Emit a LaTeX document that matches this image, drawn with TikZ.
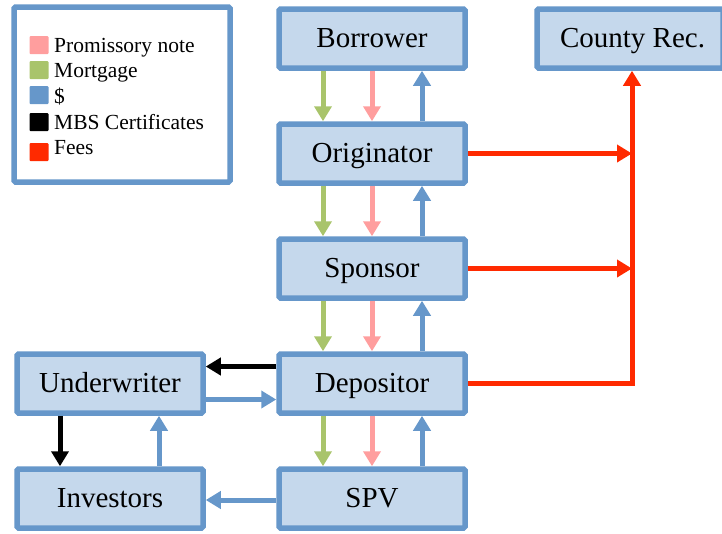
\documentclass[tikz,border=0pt]{standalone}
\usepackage{fontspec}
\setmainfont{Liberation Serif}
\usetikzlibrary{arrows.meta}
\definecolor{boxfill}{HTML}{C5D8EC}
\definecolor{boxline}{HTML}{6697CA}
\definecolor{cgreen}{HTML}{A9C46B}
\definecolor{cpink}{HTML}{FF9E9E}
\definecolor{cblue}{HTML}{6697CA}
\definecolor{cred}{HTML}{FF2A00}
\tikzset{
  entity/.style={draw=boxline, fill=boxfill, line width=5.5pt, rounded corners=1.5pt,
    minimum width=186pt, minimum height=59pt, inner sep=0pt,
    text height=21pt, text depth=4pt,
    font=\fontsize{29}{33}\selectfont},
  flow/.style={line width=5pt, -{Triangle[length=15pt,width=17pt]}},
  legsq/.style={rounded corners=1pt, minimum width=19pt, minimum height=18pt, inner sep=0pt},
  legtx/.style={anchor=base west, inner sep=0pt, font=\fontsize{21.5}{24}\selectfont}
}
\begin{document}
\begin{tikzpicture}[x=1pt,y=-1pt]
\useasboundingbox (0,0) rectangle (722,533);
% legend
\node[draw=boxline, line width=5.5pt, rounded corners=1.5pt, minimum width=216pt, minimum height=175pt, inner sep=0pt] (legend) at (122,94.5) {};
\node[legsq, fill=cpink] (lp) at (39,45) {};
\node[legsq, fill=cgreen] (lg) at (39,70) {};
\node[legsq, fill=cblue] (lb) at (39,95) {};
\node[legsq, fill=black] (lk) at (39,122) {};
\node[legsq, fill=cred] (lr) at (39,152) {};
\node[legtx] (tp) at (54,52) {Promissory note};
\node[legtx] (tg) at (54,77.5) {Mortgage};
\node[legtx] (tb) at (54,103) {\$};
\node[legtx] (tk) at (54,129.5) {MBS Certificates};
\node[legtx] (tr) at (54,154.5) {Fees};
% boxes
\node[entity] (borrower) at (372,38.5) {Borrower};
\node[entity] (originator) at (372,153.5) {Originator};
\node[entity] (sponsor) at (372,268.5) {Sponsor};
\node[entity] (depositor) at (372,383.5) {Depositor};
\node[entity] (spv) at (372,498.5) {SPV};
\node[entity] (underwriter) at (110,383.5) {Underwriter};
\node[entity] (investors) at (110,498.5) {Investors};
\node[entity] (county) at (630,38.5) {\hspace*{5pt}County Rec.};
% vertical flows in main column
\foreach \a/\b in {borrower/originator, originator/sponsor, sponsor/depositor, depositor/spv}{
  \draw[flow, cgreen] ([xshift=-49pt]\a.south) -- ([xshift=-49pt]\b.north);
  \draw[flow, cpink] (\a.south) -- (\b.north);
  \draw[flow, cblue] ([xshift=50pt]\b.north) -- ([xshift=50pt]\a.south);
}
% fees
\coordinate (fx) at (632,383.5);
\draw[flow, cred] (originator.east) -- (originator.east -| fx);
\draw[flow, cred] (sponsor.east) -- (sponsor.east -| fx);
\draw[flow, cred] (depositor.east) -- (fx) -- (county.south -| fx);
% underwriter / depositor
\draw[flow, black] ([yshift=17pt]depositor.west) -- ([yshift=17pt]underwriter.east);
\draw[flow, cblue] ([yshift=-16pt]underwriter.east) -- ([yshift=-16pt]depositor.west);
% underwriter / investors
\draw[flow, black] ([xshift=-50pt]underwriter.south) -- ([xshift=-50pt]investors.north);
\draw[flow, cblue] ([xshift=49pt]investors.north) -- ([xshift=49pt]underwriter.south);
% spv -> investors
\draw[flow, cblue] ([yshift=-1.5pt]spv.west) -- ([yshift=-1.5pt]investors.east);
\end{tikzpicture}
\end{document}
